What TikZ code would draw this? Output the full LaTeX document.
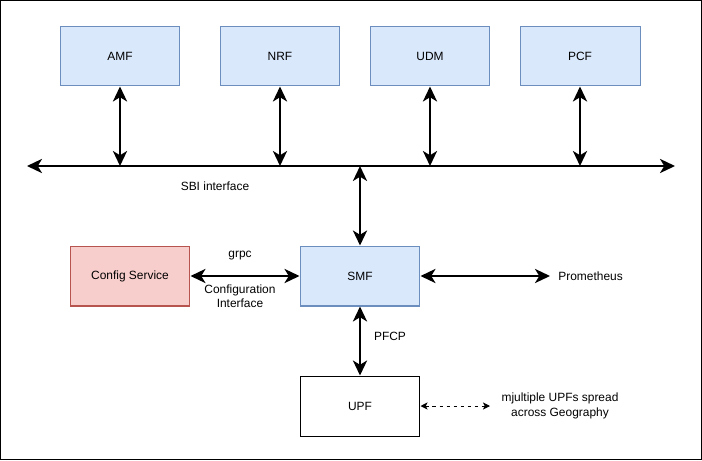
\documentclass[tikz,border=0pt]{standalone}
\usepackage{fontspec}
\setmainfont{Liberation Sans}
\usepackage{xcolor}
\usetikzlibrary{arrows.meta,positioning}

\definecolor{nfblue}{HTML}{DAE8FC}
\definecolor{nfblueline}{HTML}{6C8EBF}
\definecolor{cfgred}{HTML}{F8CECC}
\definecolor{cfgredline}{HTML}{B85450}

\begin{document}
\begin{tikzpicture}[
  x=0.02cm, y=-0.02cm,
  every node/.style={font=\fontsize{6.8}{8.2}\selectfont},
  box/.style={draw, rectangle, minimum width=2.4cm, minimum height=1.2cm,
              align=center, line width=0.57pt},
  nf/.style={box, fill=nfblue, draw=nfblueline},
  cfg/.style={box, fill=cfgred, draw=cfgredline},
  plain/.style={box, fill=white, draw=black},
  link/.style={line width=1.5pt, {Stealth[length=8.5pt,width=8pt,inset=2.4pt]}-{Stealth[length=8.5pt,width=8pt,inset=2.4pt]}},
  hint/.style={line width=0.57pt, dash pattern=on 2pt off 2pt,
               {Stealth[length=4pt,width=4pt,inset=1pt]}-{Stealth[length=4pt,width=4pt,inset=1pt]}},
  lbl/.style={align=center}
]

%% frame
\draw[line width=0.57pt, fill=white] (0.5,0.5) rectangle (701.5,459.5);

%% network functions on the bus
\node[nf] (amf) at (120,56) {AMF};
\node[nf] (nrf) at (280,56) {NRF};
\node[nf] (udm) at (430,56) {UDM};
\node[nf] (pcf) at (580,56) {PCF};

%% SBI bus
\coordinate (busl) at (27,166);
\coordinate (busr) at (675,166);
\draw[link] (busl) -- (busr);
\node[lbl] (sbi) at (215,186) {SBI interface};

\coordinate (tamf) at (120,166);
\coordinate (tnrf) at (280,166);
\coordinate (tudm) at (430,166);
\coordinate (tpcf) at (580,166);
\coordinate (tsmf) at (360,166);
\draw[link] (amf) -- (tamf);
\draw[link] (nrf) -- (tnrf);
\draw[link] (udm) -- (tudm);
\draw[link] (pcf) -- (tpcf);

%% SMF and its peers
\node[nf]  (smf) at (360,276) {SMF};
\node[cfg] (cfg) at (130,276) {Config Service};
\node[plain] (upf) at (360,406) {UPF};
\draw[link] (tsmf) -- (smf);

\draw[link] (cfg) -- (smf);
\node[lbl] (grpc) at (240,256) {grpc};
\node[lbl] (cfgif) at (240,296) {Configuration\\Interface};

\coordinate (prom) at (550,276);
\draw[link] (smf) -- (prom);
\node[lbl, anchor=west, inner sep=0pt] (promlbl) at (558,276) {Prometheus};

\draw[link] (smf) -- (upf);
\node[lbl] (pfcp) at (390,336) {PFCP};

%% more UPFs
\coordinate (more) at (490,406);
\draw[hint] (upf) -- (more);
\node[lbl] (morelbl) at (560,406) {mjultiple UPFs spread\\across Geography};
\end{tikzpicture}
\end{document}
